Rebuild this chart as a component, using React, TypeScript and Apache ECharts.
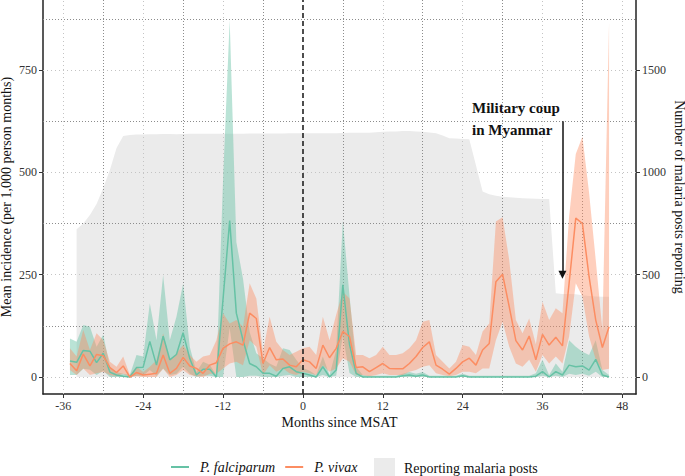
import React, { useEffect, useRef } from "react";
import * as echarts from "echarts";

const FONT = "Liberation Serif";
const GREEN = "#66C2A5";
const ORANGE = "#FC8D62";
const GREY = "#EBEBEB";
const GREEN_BAND = "rgba(102,194,165,0.45)";
const ORANGE_BAND = "rgba(252,141,98,0.42)";

const months = [
  -35, -34, -33, -32, -31, -30, -29, -28, -27, -26,
  -25, -24, -23, -22, -21, -20, -19, -18, -17, -16,
  -15, -14, -13, -12, -11, -10, -9, -8, -7, -6,
  -5, -4, -3, -2, -1, 0, 1, 2, 3, 4,
  5, 6, 7, 8, 9, 10, 11, 12, 13, 14,
  15, 16, 17, 18, 19, 20, 21, 22, 23, 24,
  25, 26, 27, 28, 29, 30, 31, 32, 33, 34,
  35, 36, 37, 38, 39, 40, 41, 42, 43, 44,
  45, 46,
];

const vivaxMean = [
  33, 15, 56, 27, 55, 52, 23, 11, 27, 0,
  11, 5, 7, 9, 54, 9, 21, 48, 27, 21,
  9, 29, 35, 70, 81, 86, 78, 156, 143, 33,
  72, 42, 44, 29, 25, 42, 37, 21, 78, 47,
  70, 111, 99, 23, 25, 13, 23, 33, 21, 20,
  20, 33, 50, 72, 86, 29, 19, 7, 21, 37,
  46, 29, 66, 82, 233, 251, 172, 89, 66, 100,
  42, 104, 78, 97, 76, 229, 388, 375, 245, 139,
  72, 123,
];
const vivaxUpper = [
  70, 50, 115, 66, 107, 90, 37, 25, 50, 5,
  25, 12, 25, 41, 107, 41, 58, 78, 54, 37,
  50, 54, 90, 156, 131, 139, 123, 229, 192, 62,
  147, 86, 66, 54, 62, 70, 74, 54, 147, 90,
  152, 208, 192, 54, 54, 46, 54, 74, 54, 54,
  58, 70, 90, 135, 139, 54, 37, 21, 37, 78,
  74, 54, 111, 131, 380, 390, 286, 139, 107, 143,
  80, 184, 139, 168, 156, 392, 545, 587, 450, 286,
  115, 865,
];
const vivaxLower = [
  17, 5, 21, 5, 9, 13, 5, 2, 8, 0,
  2, 0, 0, 0, 20, 0, 5, 17, 5, 2,
  0, 8, 8, 21, 33, 37, 29, 90, 74, 5,
  29, 13, 21, 9, 5, 13, 9, 5, 29, 13,
  21, 46, 37, 5, 5, 2, 5, 9, 5, 5,
  5, 13, 17, 25, 29, 9, 5, 2, 5, 13,
  13, 9, 21, 21, 90, 135, 74, 33, 25, 42,
  13, 54, 33, 50, 33, 99, 229, 196, 99, 42,
  17, 20,
];

const falcMean = [
  39, 36, 65, 63, 35, 58, 12, 5, 2, 0,
  23, 24, 87, 29, 100, 42, 55, 108, 45, 5,
  19, 19, 0, 190, 382, 156, 90, 33, 25, 9,
  9, 2, 21, 25, 13, 9, 5, 0, 25, 0,
  17, 225, 80, 9, 0, 0, 0, 0, 0, 0,
  3, 5, 2, 5, 0, 0, 0, 0, 0, 3,
  0, 0, 0, 0, 0, 0, 0, 0, 0, 0,
  2, 13, 0, 13, 5, 29, 25, 27, 17, 43,
  5, 0,
];
const falcUpper = [
  94, 86, 127, 123, 74, 103, 25, 12, 8, 5,
  54, 50, 180, 90, 249, 90, 147, 228, 74, 12,
  37, 30, 5, 480, 872, 330, 240, 110, 58, 46,
  33, 25, 70, 66, 42, 22, 15, 5, 50, 5,
  66, 381, 200, 25, 5, 3, 3, 3, 3, 3,
  8, 12, 8, 12, 3, 3, 3, 3, 3, 8,
  3, 3, 3, 3, 3, 3, 3, 3, 3, 3,
  9, 42, 5, 33, 13, 90, 74, 62, 54, 90,
  17, 5,
];
const falcLower = [
  5, 5, 20, 18, 5, 15, 0, 0, 0, 0,
  3, 3, 17, 3, 21, 5, 8, 25, 8, 0,
  3, 3, 0, 0, 120, 0, 0, 3, 3, 0,
  0, 0, 3, 5, 0, 0, 0, 0, 5, 0,
  3, 100, 10, 0, 0, 0, 0, 0, 0, 0,
  0, 0, 0, 0, 0, 0, 0, 0, 0, 0,
  0, 0, 0, 0, 0, 0, 0, 0, 0, 0,
  0, 3, 0, 3, 0, 8, 5, 8, 3, 13,
  0, 0,
];

const reportMonths = [
  -34, -33, -32, -31, -30, -29, -28, -27, -26, -25,
  -24, -23, -22, -21, -20, -19, -18, -17, -16, -15,
  -14, -13, -12, -11, -10, -9, -8, -7, -6, -5,
  -4, -3, -2, -1, 0, 1, 2, 3, 4, 5,
  6, 7, 8, 9, 10, 11, 12, 13, 14, 15,
  16, 17, 18, 19, 20, 21, 22, 23, 24, 25,
  26, 27, 28, 29, 30, 31, 32, 33, 34, 35,
  36, 37, 38, 39, 40, 41, 42, 43, 44, 45,
  46,
];
const reportPosts = [
  722, 750, 792, 845, 924, 1012, 1119, 1178, 1183, 1185,
  1185, 1186, 1186, 1187, 1187, 1186, 1187, 1188, 1188, 1188,
  1188, 1188, 1189, 1189, 1189, 1189, 1190, 1190, 1190, 1190,
  1190, 1190, 1191, 1191, 1191, 1191, 1191, 1191, 1191, 1191,
  1192, 1193, 1194, 1194, 1194, 1196, 1198, 1200, 1200, 1202,
  1202, 1200, 1198, 1195, 1191, 1180, 1167, 1165, 1163, 1162,
  1035, 906, 893, 885, 881, 878, 876, 874, 872, 871,
  870, 870, 409, 405, 405, 404, 400, 396, 393, 392,
  392,
];

const xTicks = [-36, -24, -12, 0, 12, 24, 36, 48];
const xMinorGrid = [-30, -18, -6, 6, 18, 30, 42];
const yLeftTicks = [0, 250, 500, 750];
const yLeftMinorGrid = [125, 375, 625, 875];
const yRightTicks = [0, 500, 1000, 1500];

const coupMonth = 39;
const coupArrowTop = 625;
const coupArrowTip = 250;

const pair = (xs: number[], ys: number[]) => xs.map((x, i) => [x, ys[i]]);

const ribbon = (name: string, lower: number[], upper: number[], fill: string) => ({
  name,
  type: "custom",
  silent: true,
  z: 2,
  clip: true,
  data: [[months[0], lower[0]]],
  renderItem: (_params: any, api: any) => {
    const pts: number[][] = [];
    for (let i = 0; i < months.length; i++) pts.push(api.coord([months[i], upper[i]]));
    for (let i = months.length - 1; i >= 0; i--) pts.push(api.coord([months[i], lower[i]]));
    return { type: "polygon", shape: { points: pts }, style: { fill, stroke: "none" } };
  },
});

export default function App() {
  const ref = useRef<HTMLDivElement>(null);
  useEffect(() => {
    if (!ref.current) return;
    const chart = echarts.init(ref.current, undefined, { renderer: "svg" });
    const lightGrid = { type: [1, 3] as any, color: "#c4c4c4", width: 1 };
    const darkGrid = { type: [1, 2] as any, color: "#8c8c8c", width: 1 };
    const gridLines = [
      ...xTicks.filter((v) => v !== 0).map((v) => ({ xAxis: v, lineStyle: lightGrid })),
      ...xMinorGrid.map((v) => ({ xAxis: v, lineStyle: darkGrid })),
      ...yLeftTicks.map((v) => ({ yAxis: v, lineStyle: lightGrid })),
      ...yLeftMinorGrid.map((v) => ({ yAxis: v, lineStyle: darkGrid })),
    ];
    const plain = (v: number) => String(v);
    const axisText = { fontFamily: FONT, fontSize: 12, color: "#333", formatter: plain };
    const nameText = { fontFamily: FONT, fontSize: 14, color: "#111" };
    const option: any = {
      animation: false,
      grid: { left: 43, right: 49, top: 0, bottom: 82, containLabel: false, outerBoundsMode: "none" },
      xAxis: {
        type: "value",
        min: -39.05,
        max: 50.05,
        axisLine: { show: true, onZero: false, lineStyle: { color: "#222", width: 1.5 } },
        axisTick: { show: true, customValues: xTicks, length: 4, lineStyle: { color: "#333" } },
        axisLabel: { customValues: xTicks, margin: 6, ...axisText },
        splitLine: { show: false },
        name: "Months since MSAT",
        nameLocation: "middle",
        nameGap: 21,
        nameMoveOverlap: false,
        nameTextStyle: nameText,
      },
      yAxis: [
        {
          type: "value",
          position: "left",
          min: -41.5,
          max: 921,
          axisLine: { show: true, onZero: false, lineStyle: { color: "#222", width: 1.5 } },
          axisTick: { show: true, customValues: yLeftTicks, length: 4, lineStyle: { color: "#333" } },
          axisLabel: { customValues: yLeftTicks, margin: 6, ...axisText },
          splitLine: { show: false },
          name: "Mean incidence (per 1,000 person months)",
          nameLocation: "middle",
          nameRotate: 90,
          nameGap: 30,
          nameMoveOverlap: false,
          nameTextStyle: nameText,
        },
        {
          type: "value",
          position: "right",
          min: -83,
          max: 1842,
          axisLine: { show: true, onZero: false, lineStyle: { color: "#222", width: 1.5 } },
          axisTick: { show: true, customValues: yRightTicks, length: 4, lineStyle: { color: "#333" } },
          axisLabel: { customValues: yRightTicks, margin: 6, ...axisText },
          splitLine: { show: false },
          name: "Number of malaria posts reporting",
          nameLocation: "middle",
          nameRotate: -90,
          nameGap: 36,
          nameMoveOverlap: false,
          nameTextStyle: nameText,
        },
      ],
      legend: [
        {
          data: [
            { name: "P. falciparum", textStyle: { fontStyle: "italic" } },
            { name: "P. vivax", textStyle: { fontStyle: "italic" } },
          ],
          left: 166,
          top: 455,
          icon: "rect",
          itemWidth: 18,
          itemHeight: 2,
          itemGap: 10,
          selectedMode: false,
          textStyle: { fontFamily: FONT, fontSize: 14, color: "#111", padding: [0, 0, 0, 6] },
        },
        {
          data: [{ name: "Reporting malaria posts", itemStyle: { color: GREY } }],
          left: 369,
          top: 453,
          icon: "rect",
          itemWidth: 21,
          itemHeight: 21,
          selectedMode: false,
          textStyle: { fontFamily: FONT, fontSize: 14, color: "#111", padding: [0, 0, 0, 4] },
        },
      ],
      graphic: [
        {
          type: "text",
          left: 472,
          top: 97,
          silent: true,
          style: {
            text: "Military coup\nin Myanmar",
            font: `bold 15px "${FONT}"`,
            fill: "#111",
            lineHeight: 22,
          },
        },
      ],
      series: [
        {
          name: "Reporting malaria posts",
          type: "line",
          yAxisIndex: 1,
          data: pair(reportMonths, reportPosts),
          symbol: "none",
          silent: true,
          z: 0,
          itemStyle: { color: GREY },
          lineStyle: { width: 0, color: GREY },
          areaStyle: { color: GREY, opacity: 1 },
        },
        {
          name: "gridHolder",
          type: "line",
          data: pair(months, falcMean),
          symbol: "none",
          silent: true,
          z: 1,
          lineStyle: { opacity: 0, width: 0 },
          markLine: {
            silent: true,
            symbol: ["none", "none"],
            z: 1,
            label: { show: false },
            data: gridLines,
          },
        },
        ribbon("pfBand", falcLower, falcUpper, GREEN_BAND),
        ribbon("pvBand", vivaxLower, vivaxUpper, ORANGE_BAND),
        {
          name: "P. falciparum",
          type: "line",
          data: pair(months, falcMean),
          symbol: "none",
          z: 3,
          itemStyle: { color: GREEN },
          lineStyle: { color: GREEN, width: 1.5 },
          markLine: {
            silent: true,
            symbol: ["none", "triangle"],
            symbolSize: 8,
            label: { show: false },
            lineStyle: { color: "#111", width: 1.5, type: "solid" },
            data: [[{ coord: [coupMonth, coupArrowTop] }, { coord: [coupMonth, coupArrowTip] }]],
          },
        },
        {
          name: "P. vivax",
          type: "line",
          data: pair(months, vivaxMean),
          symbol: "none",
          z: 3,
          itemStyle: { color: ORANGE },
          lineStyle: { color: ORANGE, width: 1.5 },
          markLine: {
            silent: true,
            symbol: ["none", "none"],
            label: { show: false },
            lineStyle: { color: "#222", width: 1.6, type: [5, 3] },
            data: [{ xAxis: 0 }],
          },
        },
      ],
    };
    chart.setOption(option);
    return () => chart.dispose();
  }, []);
  return (
    <div
      ref={ref}
      style={{ position: "fixed", left: 0, top: 0, width: 685, height: 476, background: "#fff" }}
    />
  );
}
